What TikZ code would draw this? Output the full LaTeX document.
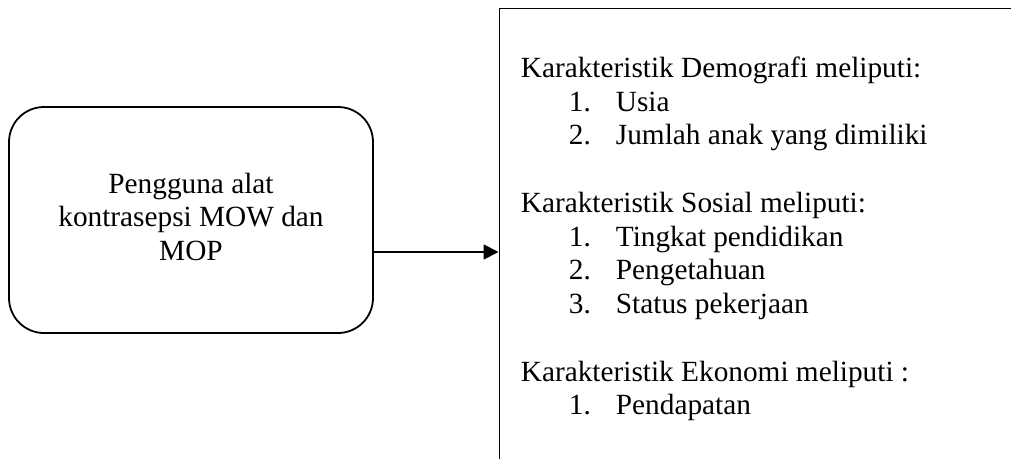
\documentclass[tikz,border=0pt]{standalone}
\usepackage{fontspec}
\setmainfont{Liberation Serif}
\usetikzlibrary{arrows.meta}
\begin{document}
\begin{tikzpicture}[x=1pt,y=-1pt,
  line width=1.8pt,
  txt/.style={inner sep=0pt,font=\fontsize{29.3}{33.75}\selectfont},
  lbl/.style={txt,anchor=base west},
  num/.style={txt,anchor=base west}
]
\useasboundingbox (0,0) rectangle (1011,458);
\node[draw,rounded corners=35pt,minimum width=364pt,minimum height=226pt,inner sep=0pt] (src) at (191,220) {};
\node[txt,anchor=base] (s1) at (191,193) {Pengguna alat};
\node[txt,anchor=base] (s2) at (191,226.75) {kontrasepsi MOW dan};
\node[txt,anchor=base] (s3) at (191,260.5) {MOP};
\node[draw,minimum width=530pt,minimum height=480pt,inner sep=0pt,anchor=north west] (box) at (498.5,7.5) {};
\coordinate (tip) at (box.west |- 0,252);
\draw[-{Triangle[length=15pt,width=15pt]}] (src.east |- tip) -- (tip);
\node[lbl] (h1) at (520,77.25) {Karakteristik Demografi meliputi:};
\node[num] (n11) at (568,111) {1.};\node[lbl] (i11) at (615,111) {Usia};
\node[num] (n12) at (568,144.75) {2.};\node[lbl] (i12) at (615,144.75) {Jumlah anak yang dimiliki};
\node[lbl] (h2) at (520,212.25) {Karakteristik Sosial meliputi:};
\node[num] (n21) at (568,246) {1.};\node[lbl] (i21) at (615,246) {Tingkat pendidikan};
\node[num] (n22) at (568,279.75) {2.};\node[lbl] (i22) at (615,279.75) {Pengetahuan};
\node[num] (n23) at (568,313.5) {3.};\node[lbl] (i23) at (615,313.5) {Status pekerjaan};
\node[lbl] (h3) at (520,381) {Karakteristik Ekonomi meliputi :};
\node[num] (n31) at (568,414.75) {1.};\node[lbl] (i31) at (615,414.75) {Pendapatan};
\end{tikzpicture}
\end{document}
